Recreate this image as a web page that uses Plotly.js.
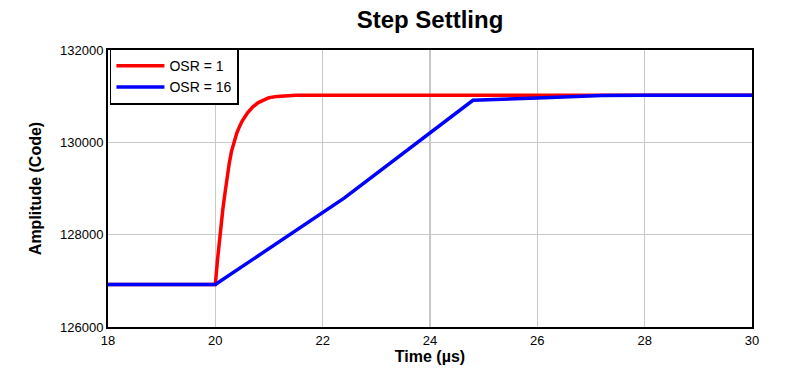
<!DOCTYPE html>
<html><head><meta charset="utf-8">
<script src="https://cdn.plot.ly/plotly-3.0.1.min.js"></script>
<style>html,body{margin:0;padding:0;background:#fff}#chart{width:789px;height:385px}</style>
</head><body><div id="chart"></div>
<script>
const timeOsr1 = [18, 19, 20.0, 20.04, 20.08, 20.1, 20.14, 20.18, 20.22, 20.26, 20.3, 20.35, 20.4, 20.45, 20.5, 20.6, 20.7, 20.8, 20.9, 21.0, 21.15, 21.3, 21.5, 22, 24, 26, 28, 30];
const codeOsr1 = [126920, 126920, 126920, 127450, 127930, 128150, 128550, 128900, 129250, 129550, 129800, 130030, 130200, 130340, 130460, 130640, 130770, 130860, 130920, 130965, 130995, 131010, 131018, 131020, 131020, 131020, 131020, 131020];
const timeOsr16 = [18, 20.0, 22.4, 24.8, 26, 27.2, 28, 30];
const codeOsr16 = [126920, 126920, 128790, 130910, 130960, 131015, 131020, 131020];

const traces = [
  {x: timeOsr1, y: codeOsr1, name: 'OSR = 1', mode: 'lines', line: {color: '#ff0000', width: 3.5}},
  {x: timeOsr16, y: codeOsr16, name: 'OSR = 16', mode: 'lines', line: {color: '#0000ff', width: 3.5}}
];
const layout = {
  width: 789, height: 385,
  margin: {l: 108, r: 37, t: 50, b: 58},
  paper_bgcolor: '#fff', plot_bgcolor: '#fff',
  font: {family: 'Liberation Sans, Arial, sans-serif', color: '#000', size: 13},
  title: {text: '<b>Step Settling</b>', font: {size: 24, color: '#000'}, x: 0.545, xanchor: 'center', y: 0.95, yanchor: 'middle'},
  xaxis: {
    range: [18, 30], dtick: 2, tick0: 18,
    showgrid: true, gridcolor: '#c8c8c8', gridwidth: 1.5,
    showline: true, linecolor: '#000', linewidth: 2, mirror: true,
    zeroline: false, ticks: '', tickfont: {size: 13},
    title: {text: '<b>Time (µs)</b>', font: {size: 16}, standoff: 2}
  },
  yaxis: {
    range: [126000, 132000], dtick: 2000, tick0: 126000, tickformat: 'd',
    showgrid: true, gridcolor: '#c8c8c8', gridwidth: 1.5,
    showline: true, linecolor: '#000', linewidth: 2, mirror: true,
    zeroline: false, ticks: '', tickfont: {size: 13},
    title: {text: '<b>Amplitude (Code)</b>', font: {size: 16}, standoff: 14}
  },
  legend: {x: 0.003, y: 1.005, xanchor: 'left', yanchor: 'top', bordercolor: '#000', borderwidth: 1.5, bgcolor: '#fff', font: {size: 14}, tracegroupgap: 0, itemwidth: 48},
  showlegend: true
};
Plotly.newPlot('chart', traces, layout, {displayModeBar: false, staticPlot: true});
</script></body></html>
